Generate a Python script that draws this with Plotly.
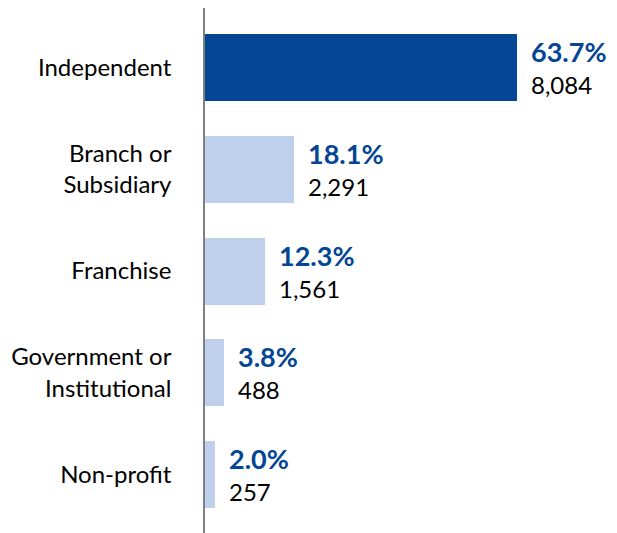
import plotly.graph_objects as go

categories = ["Independent", "Branch or<br>Subsidiary", "Franchise",
              "Government or<br>Institutional", "Non-profit"]
shares = [63.7, 18.1, 12.3, 3.8, 2.0]
counts = [8084, 2291, 1561, 488, 257]

dark = "#034694"
light = "#BED0EC"
colors = [dark] + [light] * (len(shares) - 1)

fig = go.Figure(go.Bar(
    x=shares, y=categories, orientation="h",
    marker=dict(color=colors, line=dict(width=0)),
    width=0.66, hoverinfo="skip",
))

for cat, s, n in zip(categories, shares, counts):
    fig.add_annotation(x=s, y=cat, text="<b>%.1f%%</b>" % s, showarrow=False,
                       xanchor="left", yanchor="middle", xshift=12, yshift=16,
                       font=dict(size=27, color=dark))
    fig.add_annotation(x=s, y=cat, text=f"{n:,}", showarrow=False,
                       xanchor="left", yanchor="middle", xshift=12, yshift=-17,
                       font=dict(size=24, color="black"))

# page body adds an 8px offset, so margins are shifted to compensate
fig.update_layout(
    width=617, height=533,
    margin=dict(l=197, r=12, t=0, b=8, autoexpand=False),
    plot_bgcolor="white", paper_bgcolor="white",
    font=dict(family="Lato", size=24, color="black"),
    showlegend=False,
    bargap=0,
)
fig.update_xaxes(range=[0, 83.3], visible=False, automargin=False)
fig.update_yaxes(
    range=[4.58, -0.59], showline=True, linecolor="#808080", linewidth=1.5,
    ticks="outside", ticklen=27, tickcolor="rgba(0,0,0,0)",
    showgrid=False, zeroline=False, automargin=False,
)

fig.write_html("out.html")
